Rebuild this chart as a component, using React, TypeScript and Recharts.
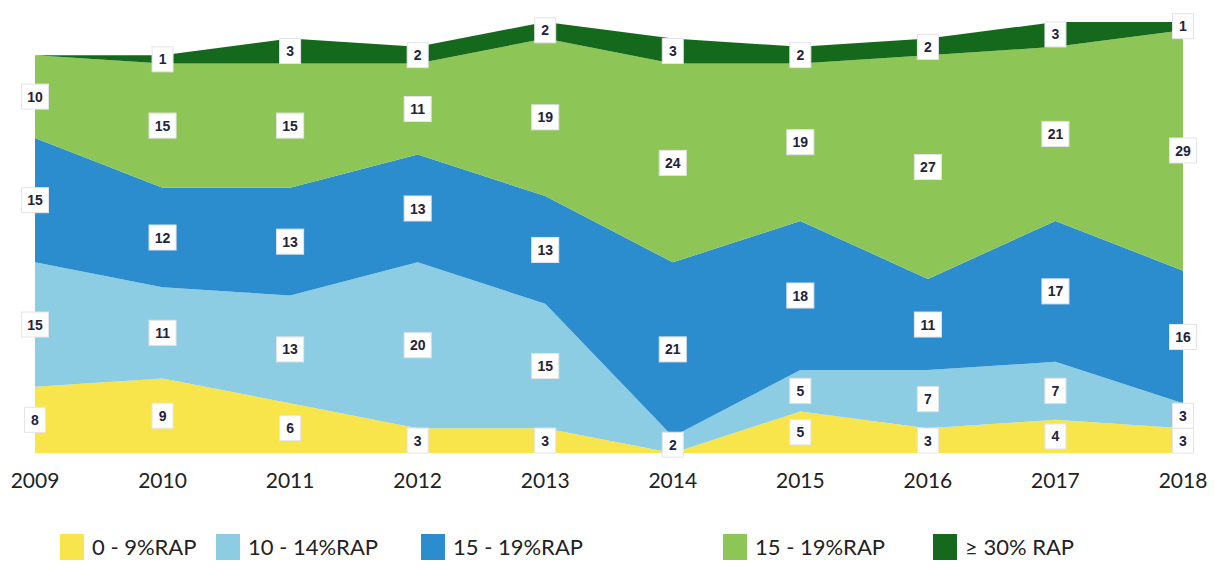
import { AreaChart, Area, Line, XAxis, YAxis, LabelList } from 'recharts';

const YEARS = ['2009', '2010', '2011', '2012', '2013', '2014', '2015', '2016', '2017', '2018'];

const RAP_0_9 = [8, 9, 6, 3, 3, 0, 5, 3, 4, 3];
const RAP_10_14 = [15, 11, 13, 20, 15, 2, 5, 7, 7, 3];
const RAP_15_19 = [15, 12, 13, 13, 13, 21, 18, 11, 17, 16];
const RAP_15_19_B = [10, 15, 15, 11, 19, 24, 19, 27, 21, 29];
const RAP_30 = [0, 1, 3, 2, 2, 3, 2, 2, 3, 1];

const SERIES = [
  { key: 's0', name: '0 - 9%RAP', values: RAP_0_9, color: '#f8e54c' },
  { key: 's1', name: '10 - 14%RAP', values: RAP_10_14, color: '#8ccde4' },
  { key: 's2', name: '15 - 19%RAP', values: RAP_15_19, color: '#2b8dcd' },
  { key: 's3', name: '15 - 19%RAP', values: RAP_15_19_B, color: '#8dc556' },
  { key: 's4', name: '\u2265 30% RAP', values: RAP_30, color: '#15691c' },
];

// rows for recharts: raw values + the middle of each band (for the labels)
const data = YEARS.map((year, i) => {
  const row: Record<string, any> = { year };
  let base = 0;
  SERIES.forEach((s, k) => {
    const v = s.values[i];
    row[s.key] = v;
    row['m' + k] = base + v / 2;
    base += v;
  });
  return row;
});

function makeLabel(values: number[]) {
  return (props: any) => {
    const { x, y, index } = props;
    const v = values[index];
    if (!v) return null;
    const text = String(v);
    const w = text.length > 1 ? 27 : 21;
    const h = 25;
    return (
      <g>
        <rect x={x - w / 2} y={y - h / 2} width={w} height={h} fill="#ffffff" stroke="#e4e4ea" strokeWidth={1} />
        <text
          x={x}
          y={y}
          dy="0.36em"
          textAnchor="middle"
          fontFamily="Liberation Sans, Arial, sans-serif"
          fontWeight="bold"
          fontSize={14}
          fill="#23233a"
        >
          {text}
        </text>
      </g>
    );
  };
}

export default function App() {
  return (
    <div style={{ position: 'absolute', left: 0, top: 0, width: 1214, height: 569, background: '#fff' }}>
      <AreaChart width={1214} height={510} data={data} margin={{ top: 22, right: 31, bottom: 0, left: 35 }}>
        <XAxis
          dataKey="year"
          height={57}
          axisLine={false}
          tickLine={false}
          tickMargin={14}
          interval={0}
          tick={{ fontSize: 21, fill: '#222', fontFamily: 'Lato, sans-serif' }}
        />
        <YAxis hide domain={[0, 52]} />
        {SERIES.map((s) => (
          <Area
            key={s.key}
            type="linear"
            dataKey={s.key}
            name={s.name}
            stackId="a"
            stroke="none"
            fill={s.color}
            fillOpacity={1}
            isAnimationActive={false}
          />
        ))}
        {SERIES.map((s, k) => (
          <Line
            key={'m' + k}
            type="linear"
            dataKey={'m' + k}
            stroke="none"
            dot={false}
            activeDot={false}
            legendType="none"
            isAnimationActive={false}
          >
            <LabelList dataKey={'m' + k} content={makeLabel(s.values)} />
          </Line>
        ))}
      </AreaChart>
      <div
        style={{
          position: 'absolute',
          top: 533,
          left: 60,
          display: 'flex',
          alignItems: 'center',
          fontFamily: 'Lato, sans-serif',
          fontSize: 22,
          color: '#222',
        }}
      >
        {SERIES.map((s, k) => (
          <div
            key={s.key}
            style={{ display: 'flex', alignItems: 'center', width: [156, 205, 302, 210, 200][k] }}
          >
            <span style={{ display: 'inline-block', width: 24, height: 26, background: s.color, marginRight: 8 }} />
            <span>{s.name}</span>
          </div>
        ))}
      </div>
    </div>
  );
}
